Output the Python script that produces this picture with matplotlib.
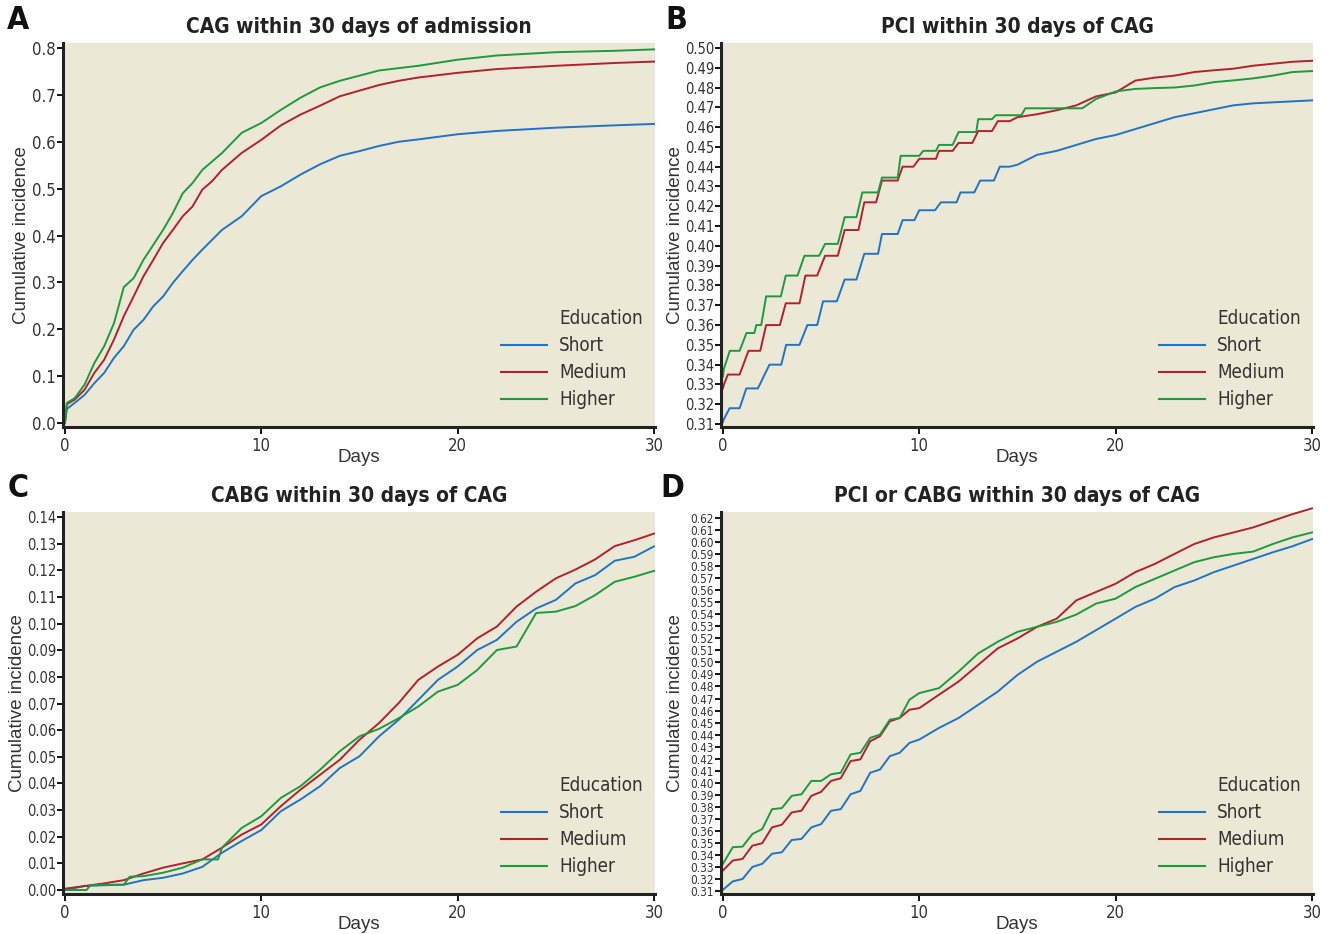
import matplotlib
matplotlib.use("Agg")
import matplotlib.pyplot as plt
import matplotlib.font_manager as fm
from matplotlib.lines import Line2D
import numpy as np

# ==========================================
# DATA
# ==========================================
groups = ["Short", "Medium", "Higher"]
colors = {"Short": "#1f74c4", "Medium": "#b3202e", "Higher": "#1d9a3e"}

# --- A: CAG within 30 days of admission ---
a_days = [0, 0.1, 0.5, 1, 1.5, 2, 2.5, 3, 3.5, 4, 4.5, 5, 5.5, 6, 6.5, 7, 7.5, 8,
          9, 10, 11, 12, 13, 14, 15, 16, 17, 18, 20, 22, 25, 28, 30]
a_short = [0, 0.030, 0.043, 0.060, 0.085, 0.107, 0.139, 0.164, 0.199, 0.220, 0.249,
           0.270, 0.299, 0.324, 0.348, 0.370, 0.391, 0.412, 0.441, 0.484, 0.505,
           0.530, 0.552, 0.570, 0.580, 0.591, 0.600, 0.605, 0.616, 0.623, 0.630,
           0.635, 0.638]
a_medium = [0, 0.040, 0.050, 0.071, 0.107, 0.135, 0.178, 0.228, 0.270, 0.313, 0.348,
            0.384, 0.412, 0.441, 0.462, 0.498, 0.516, 0.540, 0.576, 0.604, 0.635,
            0.658, 0.677, 0.697, 0.709, 0.721, 0.730, 0.737, 0.747, 0.755, 0.762,
            0.768, 0.771]
a_higher = [0, 0.043, 0.053, 0.082, 0.128, 0.164, 0.213, 0.290, 0.309, 0.348, 0.380,
            0.412, 0.448, 0.490, 0.512, 0.540, 0.558, 0.576, 0.619, 0.640, 0.668,
            0.694, 0.716, 0.730, 0.741, 0.752, 0.757, 0.762, 0.775, 0.784, 0.791,
            0.794, 0.797]

# --- B: PCI within 30 days of CAG ---
b_short_days = [0, 0.05, 0.34, 0.85, 1.19, 1.78, 2.37, 2.97, 3.22, 3.9, 4.3, 4.8, 5.1,
                5.8, 6.2, 6.8, 7.2, 7.9, 8.1, 8.9, 9.15, 9.75, 10.0, 10.8, 11.1, 11.9,
                12.1, 12.8, 13.1, 13.8, 14.1, 14.6, 15, 16, 17, 18, 19, 20, 21, 22, 23,
                24, 25, 26, 27, 28, 29, 30]
b_short = [0.311, 0.3125, 0.318, 0.318, 0.328, 0.328, 0.340, 0.340, 0.350, 0.350,
           0.360, 0.360, 0.372, 0.372, 0.383, 0.383, 0.396, 0.396, 0.406, 0.406,
           0.413, 0.413, 0.418, 0.418, 0.422, 0.422, 0.427, 0.427, 0.433, 0.433,
           0.440, 0.440, 0.441, 0.446, 0.448, 0.451, 0.454, 0.456, 0.459, 0.462,
           0.465, 0.467, 0.469, 0.471, 0.472, 0.4725, 0.473, 0.4735]
b_medium_days = [0, 0.05, 0.25, 0.85, 1.3, 1.9, 2.2, 2.9, 3.2, 3.9, 4.2, 4.8, 5.2,
                 5.85, 6.2, 6.9, 7.2, 7.8, 8.1, 8.9, 9.15, 9.7, 10.0, 10.85, 11.0,
                 11.7, 12.0, 12.7, 13.0, 13.7, 14.0, 14.6, 15, 16, 17, 18, 19, 20, 21,
                 22, 23, 24, 25, 26, 27, 28, 29, 30]
b_medium = [0.328, 0.330, 0.335, 0.335, 0.347, 0.347, 0.360, 0.360, 0.371, 0.371,
            0.385, 0.385, 0.395, 0.395, 0.408, 0.408, 0.422, 0.422, 0.433, 0.433,
            0.440, 0.440, 0.444, 0.444, 0.448, 0.448, 0.452, 0.452, 0.458, 0.458,
            0.463, 0.463, 0.465, 0.4665, 0.4685, 0.471, 0.4755, 0.4775, 0.4835,
            0.485, 0.486, 0.4878, 0.4887, 0.4895, 0.491, 0.492, 0.493, 0.4935]
b_higher_days = [0, 0.05, 0.35, 0.85, 1.2, 1.6, 1.7, 1.95, 2.2, 2.95, 3.2, 3.8, 4.15,
                 4.9, 5.2, 5.85, 6.2, 6.8, 7.1, 7.9, 8.1, 8.9, 9.05, 10.0, 10.2, 10.85,
                 11.0, 11.7, 12.0, 12.9, 13.0, 13.7, 13.9, 15.2, 15.4, 18.3, 19, 20,
                 21, 22, 23, 24, 25, 26, 27, 28, 29, 30]
b_higher = [0.334, 0.338, 0.347, 0.347, 0.356, 0.356, 0.360, 0.360, 0.3745, 0.3745,
            0.385, 0.385, 0.395, 0.395, 0.401, 0.401, 0.4145, 0.4145, 0.427, 0.427,
            0.4345, 0.4345, 0.4455, 0.4455, 0.448, 0.448, 0.451, 0.451, 0.4575,
            0.4575, 0.464, 0.464, 0.466, 0.466, 0.4695, 0.4695, 0.4742, 0.478,
            0.4793, 0.4797, 0.480, 0.481, 0.4827, 0.4836, 0.4846, 0.486, 0.4878,
            0.4883]

# --- C: CABG within 30 days of CAG ---
c_days = list(range(0, 31))
c_short = [0, 0.0015, 0.0018, 0.0020, 0.0037, 0.0046, 0.0062, 0.0087, 0.0140, 0.0184,
           0.0225, 0.0296, 0.0340, 0.0390, 0.0458, 0.0502, 0.0577, 0.0639, 0.0714,
           0.0789, 0.0839, 0.0901, 0.0939, 0.1007, 0.1057, 0.1089, 0.1151, 0.1182,
           0.1236, 0.1251, 0.1290]
c_medium = [0.0005, 0.0015, 0.0025, 0.0037, 0.0062, 0.0084, 0.0100, 0.0115, 0.0159,
            0.0208, 0.0246, 0.0315, 0.0377, 0.0433, 0.0489, 0.0564, 0.0627, 0.0702,
            0.0789, 0.0839, 0.0883, 0.0945, 0.0989, 0.1064, 0.1120, 0.1170, 0.1203,
            0.1241, 0.1291, 0.1313, 0.1338]
c_higher_days = [0, 1.1, 1.3, 2, 3, 3.3, 4, 5, 6, 7, 7.8, 8, 9, 10, 11, 12, 13, 14, 15,
                 16, 17, 18, 19, 20, 21, 22, 23, 24, 25, 26, 27, 28, 29, 30]
c_higher = [0, 0, 0.0018, 0.0020, 0.0020, 0.0050, 0.0052, 0.0065, 0.0084, 0.0115,
            0.0115, 0.0159, 0.0233, 0.0277, 0.0346, 0.0390, 0.0452, 0.0521, 0.0577,
            0.0605, 0.0645, 0.0689, 0.0745, 0.0770, 0.0826, 0.0901, 0.0914, 0.1040,
            0.1045, 0.1066, 0.1107, 0.1157, 0.1176, 0.1198]

# --- D: PCI or CABG within 30 days of CAG ---
d_days = [0, 0.5, 1, 1.5, 2, 2.5, 3, 3.5, 4, 4.5, 5, 5.5, 6, 6.5, 7, 7.5, 8, 8.5, 9,
          9.5, 10, 11, 12, 13, 14, 15, 16, 17, 18, 19, 20, 21, 22, 23, 24, 25, 26,
          27, 28, 29, 30]
d_short = [0.311, 0.318, 0.320, 0.330, 0.3326, 0.341, 0.3422, 0.3524, 0.3533, 0.3629,
           0.3656, 0.3767, 0.378, 0.3904, 0.3932, 0.4083, 0.411, 0.4221, 0.4249,
           0.4331, 0.4359, 0.4455, 0.4538, 0.4648, 0.4758, 0.4896, 0.5006, 0.5089,
           0.5172, 0.5268, 0.5364, 0.5461, 0.553, 0.5626, 0.5681, 0.575, 0.5805,
           0.586, 0.5915, 0.5965, 0.6025]
d_medium = [0.327, 0.3353, 0.3367, 0.3477, 0.3497, 0.3629, 0.3651, 0.3753, 0.3767,
            0.3891, 0.3924, 0.4015, 0.4037, 0.418, 0.4194, 0.4345, 0.4387, 0.451,
            0.4538, 0.4607, 0.462, 0.4731, 0.4841, 0.4979, 0.5117, 0.5199, 0.5296,
            0.5364, 0.5516, 0.5585, 0.5654, 0.575, 0.5819, 0.5902, 0.5984, 0.6039,
            0.608, 0.6122, 0.6177, 0.6232, 0.628]
d_higher = [0.3326, 0.3464, 0.3469, 0.3574, 0.3615, 0.378, 0.3789, 0.3891, 0.3904,
            0.4015, 0.4015, 0.407, 0.4083, 0.4235, 0.4249, 0.4373, 0.44, 0.4524,
            0.4538, 0.469, 0.4745, 0.4786, 0.4924, 0.5075, 0.5172, 0.5254, 0.5296,
            0.5337, 0.5398, 0.5489, 0.553, 0.5626, 0.5695, 0.5764, 0.5833, 0.5874,
            0.5902, 0.5921, 0.5984, 0.6039, 0.608]

# ==========================================
# FONTS: look for a narrow face, else fall back
# ==========================================
def find_face(bold):
    for f in fm.fontManager.ttflist:
        fn = f.fname.lower()
        if ("narrow" in fn or "condensed" in fn) and "oblique" not in fn and "italic" not in fn:
            is_bold = f.weight in ("bold", 700) or "bold" in fn
            if is_bold == bold and ("sans" in fn or "liberation" in fn):
                return fm.FontProperties(fname=f.fname)
    return fm.FontProperties(family="Liberation Sans", weight="bold" if bold else "normal")

narrow = find_face(False)
narrow_bold = find_face(True)
REGULAR = ["Liberation Sans", "DejaVu Sans"]

def fp(base, size):
    p = base.copy()
    p.set_size(size)
    return p

# ==========================================
# PANEL SETUP
# ==========================================
panels = [
    dict(letter="A", title="CAG within 30 days of admission",
         series=[(a_days, a_short), (a_days, a_medium), (a_days, a_higher)],
         ylim=(-0.0085, 0.8107), yticks=np.arange(0, 0.81, 0.1), fmt="{:.1f}", tsize=12,
         rect=[0.0474, 0.5428, 0.4458, 0.4112], ylx=-0.056),
    dict(letter="B", title="PCI within 30 days of CAG",
         series=[(b_short_days, b_short), (b_medium_days, b_medium), (b_higher_days, b_higher)],
         ylim=(0.3085, 0.5025), yticks=np.arange(0.31, 0.5001, 0.01), fmt="{:.2f}", tsize=10.5,
         rect=[0.5429, 0.5428, 0.4458, 0.4112], ylx=-0.062),
    dict(letter="C", title="CABG within 30 days of CAG",
         series=[(c_days, c_short), (c_days, c_medium), (c_higher_days, c_higher)],
         ylim=(-0.0015, 0.1419), yticks=np.arange(0, 0.1401, 0.01), fmt="{:.2f}", tsize=10.5,
         rect=[0.0474, 0.0428, 0.4458, 0.409], ylx=-0.062),
    dict(letter="D", title="PCI or CABG within 30 days of CAG",
         series=[(d_days, d_short), (d_days, d_medium), (d_days, d_higher)],
         ylim=(0.3075, 0.625), yticks=np.arange(0.31, 0.6201, 0.01), fmt="{:.2f}", tsize=8.4,
         rect=[0.5429, 0.0428, 0.4458, 0.409], ylx=-0.062),
]
letter_pos = {"A": (0.0136, 0.978), "B": (0.509, 0.978), "C": (0.0136, 0.4775), "D": (0.506, 0.4775)}

fig = plt.figure(figsize=(13.28, 9.34), dpi=100)

for p in panels:
    ax = fig.add_axes(p["rect"])
    ax.set_facecolor("#ece8d6")
    for (x, y), g in zip(p["series"], groups):
        ax.plot(x, y, color=colors[g], lw=1.4, clip_on=False)

    ax.set_xlim(-0.1, 30.05)
    ax.set_ylim(*p["ylim"])
    ax.set_xticks([0, 10, 20, 30])
    ax.set_yticks(p["yticks"])
    ax.set_yticklabels([p["fmt"].format(v) for v in p["yticks"]],
                       fontproperties=fp(narrow, p["tsize"]), color="#333333")
    ax.set_xticklabels(["0", "10", "20", "30"], fontproperties=fp(narrow, 12),
                       color="#333333")
    ax.tick_params(axis="y", direction="out", length=4, width=1.3, pad=1)
    ax.tick_params(axis="x", direction="out", length=5, width=1.3, pad=2)

    for s in ["top", "right"]:
        ax.spines[s].set_visible(False)
    for s in ["left", "bottom"]:
        ax.spines[s].set_linewidth(2.2)
        ax.spines[s].set_color("#222222")

    ax.set_xlabel("Days", family=REGULAR, fontsize=13.5, color="#333333", labelpad=-4)
    ax.set_ylabel("Cumulative incidence", family=REGULAR, fontsize=13.5, color="#333333")
    ax.yaxis.set_label_coords(p["ylx"], 0.5)

    ax.set_title(p["title"], fontproperties=fp(narrow_bold, 15), color="#222222", pad=7)

    # legend: "Education" as a blank entry so it lines up with the labels
    handles = [Line2D([], [], color="none")] + \
              [Line2D([], [], color=colors[g], lw=1.5) for g in groups]
    labels = ["Education"] + groups
    leg = ax.legend(handles, labels, loc="lower right", bbox_to_anchor=(1.0, 0.015),
                    frameon=False, prop=fp(narrow, 13.5), handlelength=2.45,
                    handletextpad=0.64, labelspacing=0.42, borderaxespad=0.25)
    for t in leg.get_texts():
        t.set_color("#333333")

    lx, ly = letter_pos[p["letter"]]
    fig.text(lx, ly, p["letter"], fontproperties=fp(narrow_bold, 23), color="#111111",
             va="center", ha="center")

fig.savefig("out.png", dpi=100)
